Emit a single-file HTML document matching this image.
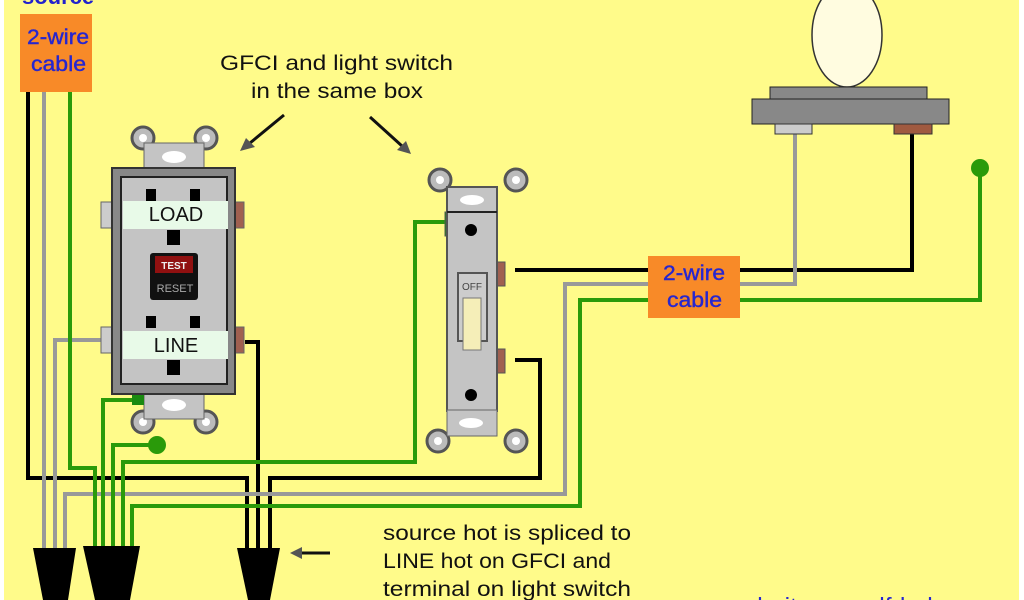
<!DOCTYPE html>
<html><head><meta charset="utf-8"><style>
html,body{margin:0;padding:0;background:#fff;}
svg{display:block;}
text{font-family:"Liberation Sans",Arial,sans-serif;}
</style></head><body>
<svg width="1024" height="600" viewBox="0 0 1024 600" xmlns="http://www.w3.org/2000/svg">
<rect x="4" y="0" width="1015" height="600" fill="#fffb8a"/>
<g fill="none" stroke-linejoin="miter">
<polyline points="28,92 28,478 247,478 247,560" stroke="#000" stroke-width="4"/>
<polyline points="245,342 258,342 258,560" stroke="#000" stroke-width="4"/>
<polyline points="515,360 540,360 540,478 270,478 270,560" stroke="#000" stroke-width="4"/>
<polyline points="515,270 912,270 912,134" stroke="#000" stroke-width="4"/>
<polyline points="44,92 44,560" stroke="#999" stroke-width="4"/>
<polyline points="102,340 55,340 55,560" stroke="#999" stroke-width="4"/>
<polyline points="795,134 795,284 565,284 565,494 65,494 65,560" stroke="#999" stroke-width="4"/>
<polyline points="70,92 70,468 95,468 95,560" stroke="#2a9a0a" stroke-width="4"/>
<polyline points="135,400 103,400 103,560" stroke="#2a9a0a" stroke-width="4"/>
<polyline points="157,445 113,445 113,560" stroke="#2a9a0a" stroke-width="4"/>
<polyline points="445,222 415,222 415,462 123,462 123,560" stroke="#2a9a0a" stroke-width="4"/>
<polyline points="980,168 980,300 580,300 580,506 132,506 132,560" stroke="#2a9a0a" stroke-width="4"/>
</g>
<circle cx="157" cy="445" r="9" fill="#2a9a0a"/>
<circle cx="980" cy="168" r="9" fill="#2a9a0a"/>
<polygon points="33,548 76,548 68,600 43,600" fill="#000"/>
<polygon points="83,546 140,546 130,600 95,600" fill="#000"/>
<polygon points="237,548 280,548 270,600 248,600" fill="#000"/>
<text x="22" y="4" font-size="22" font-weight="bold" fill="#2222cc">source</text>
<rect x="20" y="14" width="72" height="78" fill="#f88a28"/>
<text x="27" y="44" font-size="21" fill="#2626d0" textLength="62" lengthAdjust="spacingAndGlyphs" stroke="#2626d0" stroke-width="0.4">2-wire</text>
<text x="31" y="71" font-size="21" fill="#2626d0" textLength="55" lengthAdjust="spacingAndGlyphs" stroke="#2626d0" stroke-width="0.4">cable</text>
<g stroke="#555" stroke-width="3" fill="#bbb"><circle cx="143" cy="138" r="11"/><circle cx="206" cy="138" r="11"/><circle cx="143" cy="422" r="11"/><circle cx="206" cy="422" r="11"/></g>
<g fill="#fff"><circle cx="143" cy="138" r="4"/><circle cx="206" cy="138" r="4"/><circle cx="143" cy="422" r="4"/><circle cx="206" cy="422" r="4"/></g>
<rect x="144" y="143" width="60" height="26" fill="#c4c4c4" stroke="#666"/>
<rect x="144" y="393" width="60" height="26" fill="#c4c4c4" stroke="#666"/>
<ellipse cx="174" cy="157" rx="12" ry="6" fill="#fff"/>
<ellipse cx="174" cy="405" rx="12" ry="6" fill="#fff"/>
<rect x="132" y="393" width="12" height="12" fill="#1a8a10"/>
<rect x="101" y="202" width="11" height="26" fill="#ccc" stroke="#666"/>
<rect x="101" y="327" width="11" height="26" fill="#ccc" stroke="#666"/>
<rect x="234" y="202" width="10" height="26" fill="#a06050" stroke="#666"/>
<rect x="234" y="327" width="10" height="26" fill="#a06050" stroke="#666"/>
<rect x="112" y="168" width="123" height="226" fill="#888" stroke="#333" stroke-width="2"/>
<rect x="121" y="177" width="106" height="207" fill="#c4c4c4" stroke="#222" stroke-width="2"/>
<rect x="123" y="201" width="105" height="28" fill="#e8fae8"/>
<rect x="123" y="331" width="105" height="28" fill="#e8fae8"/>
<text x="176" y="221" font-size="20" fill="#111" text-anchor="middle">LOAD</text>
<text x="176" y="352" font-size="20" fill="#111" text-anchor="middle">LINE</text>
<g fill="#000"><rect x="146" y="189" width="10" height="12"/><rect x="190" y="189" width="10" height="12"/><rect x="167" y="230" width="13" height="15"/><rect x="146" y="316" width="10" height="12"/><rect x="190" y="316" width="10" height="12"/><rect x="167" y="360" width="13" height="15"/></g>
<rect x="150" y="253" width="48" height="47" rx="3" fill="#111"/>
<rect x="155" y="256" width="38" height="17" fill="#901010"/>
<text x="174" y="269" font-size="10" font-weight="bold" fill="#eee" text-anchor="middle">TEST</text>
<text x="175" y="292" font-size="11" fill="#aaa" text-anchor="middle">RESET</text>
<g stroke="#555" stroke-width="3" fill="#bbb"><circle cx="440" cy="180" r="11"/><circle cx="516" cy="180" r="11"/><circle cx="438" cy="441" r="11"/><circle cx="516" cy="441" r="11"/></g>
<g fill="#fff"><circle cx="440" cy="180" r="4"/><circle cx="516" cy="180" r="4"/><circle cx="438" cy="441" r="4"/><circle cx="516" cy="441" r="4"/></g>
<rect x="445" y="212" width="10" height="24" fill="#1a8a10" stroke="#555"/>
<rect x="495" y="262" width="10" height="24" fill="#a06050" stroke="#555"/>
<rect x="495" y="349" width="10" height="24" fill="#a06050" stroke="#555"/>
<rect x="447" y="187" width="50" height="224" fill="#c4c4c4" stroke="#555" stroke-width="2"/>
<rect x="447" y="410" width="50" height="26" fill="#c4c4c4" stroke="#666" stroke-width="1"/>
<line x1="447" y1="212" x2="497" y2="212" stroke="#222" stroke-width="2"/>
<ellipse cx="472" cy="200" rx="12" ry="5" fill="#fff"/>
<ellipse cx="471" cy="423" rx="12" ry="5" fill="#fff"/>
<circle cx="471" cy="230" r="6" fill="#000"/>
<circle cx="471" cy="395" r="6" fill="#000"/>
<rect x="458" y="273" width="29" height="68" fill="#ccc" stroke="#555" stroke-width="2"/>
<text x="472" y="290" font-size="10" fill="#444" text-anchor="middle">OFF</text>
<rect x="463" y="298" width="18" height="52" fill="#f5eeb8" stroke="#777"/>
<ellipse cx="847" cy="35" rx="35" ry="52" fill="#fffce0" stroke="#333" stroke-width="1.5"/>
<rect x="770" y="87" width="157" height="12" fill="#888" stroke="#222"/>
<rect x="752" y="99" width="197" height="25" fill="#888" stroke="#222"/>
<rect x="775" y="124" width="37" height="10" fill="#ccc" stroke="#333"/>
<rect x="894" y="124" width="38" height="10" fill="#a05a40" stroke="#333"/>
<rect x="648" y="256" width="92" height="62" fill="#f88a28"/>
<text x="663" y="280" font-size="21" fill="#2626d0" textLength="62" lengthAdjust="spacingAndGlyphs" stroke="#2626d0" stroke-width="0.4">2-wire</text>
<text x="667" y="307" font-size="21" fill="#2626d0" textLength="55" lengthAdjust="spacingAndGlyphs" stroke="#2626d0" stroke-width="0.4">cable</text>
<text x="220" y="70" font-size="21" fill="#111" textLength="233" lengthAdjust="spacingAndGlyphs">GFCI and light switch</text>
<text x="251" y="98" font-size="21" fill="#111" textLength="172" lengthAdjust="spacingAndGlyphs">in the same box</text>
<g stroke="#111" stroke-width="3"><line x1="284" y1="115" x2="250" y2="143"/><line x1="370" y1="117" x2="402" y2="146"/><line x1="330" y1="553" x2="300" y2="553"/></g>
<polygon points="240,151 246,138 255,147" fill="#555"/>
<polygon points="411,154 397,150 406,141" fill="#555"/>
<polygon points="290,553 302,547 302,559" fill="#555"/>
<text x="383" y="540" font-size="21" fill="#111" textLength="248" lengthAdjust="spacingAndGlyphs">source hot is spliced to</text>
<text x="383" y="568" font-size="21" fill="#111" textLength="228" lengthAdjust="spacingAndGlyphs">LINE hot on GFCI and</text>
<text x="383" y="596" font-size="21" fill="#111" textLength="248" lengthAdjust="spacingAndGlyphs">terminal on light switch</text>
<text x="690" y="614" font-size="23" fill="#2626d0" textLength="310" lengthAdjust="spacingAndGlyphs">www.do-it-yourself-help.com</text>
</svg>
</body></html>
